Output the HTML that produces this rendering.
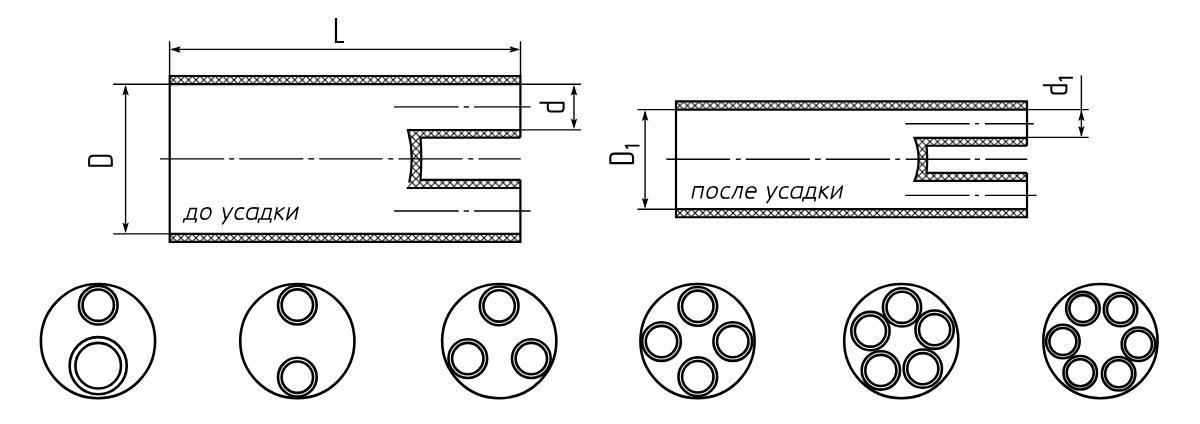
<!DOCTYPE html>
<html><head><meta charset="utf-8"><style>
html,body{margin:0;padding:0;background:#fff;width:1200px;height:424px;overflow:hidden}
svg{display:block}
</style></head><body>
<svg width="1200" height="424" viewBox="0 0 1200 424" stroke="#000" fill="none">
<defs>
<pattern id="La" patternUnits="userSpaceOnUse" x="169.61" y="76.11" width="7.58" height="7.58"><path d="M-1,-1 L8.58,8.58 M-1,8.58 L8.58,-1" stroke="#000" stroke-width="1.05" fill="none"/></pattern>
<pattern id="Lb" patternUnits="userSpaceOnUse" x="169.51" y="234.11" width="7.58" height="7.58"><path d="M-1,-1 L8.58,8.58 M-1,8.58 L8.58,-1" stroke="#000" stroke-width="1.05" fill="none"/></pattern>
<pattern id="Ln" patternUnits="userSpaceOnUse" x="169.61" y="129.51" width="7.58" height="7.58"><path d="M-1,-1 L8.58,8.58 M-1,8.58 L8.58,-1" stroke="#000" stroke-width="1.05" fill="none"/></pattern>
<pattern id="Ra" patternUnits="userSpaceOnUse" x="676.01" y="101.76" width="7.58" height="7.58"><path d="M-1,-1 L8.58,8.58 M-1,8.58 L8.58,-1" stroke="#000" stroke-width="1.05" fill="none"/></pattern>
<pattern id="Rb" patternUnits="userSpaceOnUse" x="676.21" y="209.21" width="7.58" height="7.58"><path d="M-1,-1 L8.58,8.58 M-1,8.58 L8.58,-1" stroke="#000" stroke-width="1.05" fill="none"/></pattern>
<pattern id="Rn" patternUnits="userSpaceOnUse" x="676.01" y="137.91" width="7.58" height="7.58"><path d="M-1,-1 L8.58,8.58 M-1,8.58 L8.58,-1" stroke="#000" stroke-width="1.05" fill="none"/></pattern>
</defs>
<rect x="169.7" y="76.0" width="350.7" height="8.200000000000003" fill="url(#La)" stroke="none"/>
<rect x="169.7" y="233.9" width="350.7" height="8.0" fill="url(#Lb)" stroke="none"/>
<path d="M520.4,130.0 H408.0 A115.50,115.50 0 0 1 408.00,188.00 H520.4 V179.85 H420.5 A279.32,279.32 0 0 0 420.50,137.60 H520.4 Z" fill="url(#Ln)" stroke="none"/>
<path d="M520.4,137.6 V76.0 H169.7 V241.9 H520.4 V179.85" fill="none" stroke-width="2.2" stroke-linejoin="miter"/>
<line x1="169.7" y1="84.2" x2="520.4" y2="84.2" stroke-width="2.2"/>
<line x1="169.7" y1="233.9" x2="520.4" y2="233.9" stroke-width="2.2"/>
<clipPath id="Lclip"><rect x="0" y="0" width="520.4" height="182.5"/></clipPath>
<path d="M520.4,130.0 H408.0 A115.50,115.50 0 0 1 408.00,188.00" fill="none" stroke-width="2.2" clip-path="url(#Lclip)"/>
<path d="M406.8,188.0 H520.4" fill="none" stroke-width="2.2"/>
<path d="M520.4,137.6 H420.5 A279.32,279.32 0 0 1 420.50,179.85 H520.4" fill="none" stroke-width="2.2"/>
<line x1="160" y1="158.85" x2="224.2" y2="158.85" stroke-width="1.4"/>
<line x1="229.2" y1="158.85" x2="234.2" y2="158.85" stroke-width="1.4"/>
<line x1="239.2" y1="158.85" x2="303.3" y2="158.85" stroke-width="1.4"/>
<line x1="308.3" y1="158.85" x2="314.2" y2="158.85" stroke-width="1.4"/>
<line x1="319.2" y1="158.85" x2="382.5" y2="158.85" stroke-width="1.4"/>
<line x1="388.3" y1="158.85" x2="393.3" y2="158.85" stroke-width="1.4"/>
<line x1="398.3" y1="158.85" x2="462.5" y2="158.85" stroke-width="1.4"/>
<line x1="468.3" y1="158.85" x2="473.3" y2="158.85" stroke-width="1.4"/>
<line x1="478.3" y1="158.85" x2="520.8" y2="158.85" stroke-width="1.4"/>
<line x1="394" y1="106.9" x2="458.7" y2="106.9" stroke-width="1.4"/>
<line x1="463.7" y1="106.9" x2="469" y2="106.9" stroke-width="1.4"/>
<line x1="474" y1="106.9" x2="530.6" y2="106.9" stroke-width="1.4"/>
<line x1="394" y1="211.0" x2="458.7" y2="211.0" stroke-width="1.4"/>
<line x1="463.7" y1="211.0" x2="469" y2="211.0" stroke-width="1.4"/>
<line x1="474" y1="211.0" x2="530.6" y2="211.0" stroke-width="1.4"/>
<line x1="169.6" y1="41.2" x2="169.6" y2="76" stroke-width="1.4"/>
<line x1="520.5" y1="41.3" x2="520.5" y2="76" stroke-width="1.4"/>
<line x1="172" y1="49.4" x2="518" y2="49.4" stroke-width="1.4"/>
<path d="M169.90,49.40 L180.70,46.15 L178.80,49.40 L180.70,52.65 Z" fill="#000" stroke="none"/>
<path d="M520.20,49.40 L509.40,52.65 L511.30,49.40 L509.40,46.15 Z" fill="#000" stroke="none"/>
<line x1="113.2" y1="84.2" x2="169.7" y2="84.2" stroke-width="1.4"/>
<line x1="113.2" y1="233.9" x2="169.7" y2="233.9" stroke-width="1.4"/>
<line x1="125.6" y1="87" x2="125.6" y2="231" stroke-width="1.4"/>
<path d="M125.60,84.80 L128.85,95.60 L125.60,93.70 L122.35,95.60 Z" fill="#000" stroke="none"/>
<path d="M125.60,233.30 L122.35,222.50 L125.60,224.40 L128.85,222.50 Z" fill="#000" stroke="none"/>
<line x1="520.4" y1="84.2" x2="581" y2="84.2" stroke-width="1.4"/>
<line x1="520.4" y1="129.9" x2="581" y2="129.9" stroke-width="1.4"/>
<line x1="574" y1="87" x2="574" y2="127" stroke-width="1.4"/>
<path d="M574.00,84.80 L577.25,95.60 L574.00,93.70 L570.75,95.60 Z" fill="#000" stroke="none"/>
<path d="M574.00,129.30 L570.75,118.50 L574.00,120.40 L577.25,118.50 Z" fill="#000" stroke="none"/>
<rect x="676.0" y="101.4" width="351.0" height="8.25" fill="url(#Ra)" stroke="none"/>
<rect x="676.0" y="209.2" width="351.0" height="8.050000000000011" fill="url(#Rb)" stroke="none"/>
<path d="M1027.0,137.95 H914.5 A59.51,59.51 0 0 1 914.50,180.85 H1027.0 V172.95 H926.5 A132.46,132.46 0 0 0 926.50,145.75 H1027.0 Z" fill="url(#Rn)" stroke="none"/>
<path d="M1027.0,145.75 V101.4 H676.0 V217.25 H1027.0 V172.95" fill="none" stroke-width="2.2" stroke-linejoin="miter"/>
<line x1="676.0" y1="109.65" x2="1027.0" y2="109.65" stroke-width="2.2"/>
<line x1="676.0" y1="209.2" x2="1027.0" y2="209.2" stroke-width="2.2"/>
<path d="M1027.0,137.95 H914.5 A59.51,59.51 0 0 1 914.50,180.85 H1027.0" fill="none" stroke-width="2.2"/>
<path d="M1027.0,145.75 H926.5 A132.46,132.46 0 0 1 926.50,172.95 H1027.0" fill="none" stroke-width="2.2"/>
<line x1="666.3" y1="159.2" x2="730" y2="159.2" stroke-width="1.4"/>
<line x1="735.8" y1="159.2" x2="740.8" y2="159.2" stroke-width="1.4"/>
<line x1="745.8" y1="159.2" x2="810" y2="159.2" stroke-width="1.4"/>
<line x1="815" y1="159.2" x2="820.8" y2="159.2" stroke-width="1.4"/>
<line x1="825.8" y1="159.2" x2="890" y2="159.2" stroke-width="1.4"/>
<line x1="895.2" y1="159.2" x2="900.2" y2="159.2" stroke-width="1.4"/>
<line x1="905.7" y1="159.2" x2="970.2" y2="159.2" stroke-width="1.4"/>
<line x1="974.7" y1="159.2" x2="980" y2="159.2" stroke-width="1.4"/>
<line x1="985.2" y1="159.2" x2="1027.2" y2="159.2" stroke-width="1.4"/>
<line x1="905.3" y1="123.7" x2="969.6" y2="123.7" stroke-width="1.4"/>
<line x1="975" y1="123.7" x2="979" y2="123.7" stroke-width="1.4"/>
<line x1="985" y1="123.7" x2="1033.8" y2="123.7" stroke-width="1.4"/>
<line x1="905.3" y1="195.4" x2="969.6" y2="195.4" stroke-width="1.4"/>
<line x1="975" y1="195.4" x2="979" y2="195.4" stroke-width="1.4"/>
<line x1="985" y1="195.4" x2="1036.6" y2="195.4" stroke-width="1.4"/>
<line x1="637.5" y1="109.6" x2="676" y2="109.6" stroke-width="1.4"/>
<line x1="637.5" y1="209.3" x2="676" y2="209.3" stroke-width="1.4"/>
<line x1="645.1" y1="112" x2="645.1" y2="207" stroke-width="1.4"/>
<path d="M645.10,110.20 L648.35,121.00 L645.10,119.10 L641.85,121.00 Z" fill="#000" stroke="none"/>
<path d="M645.10,208.70 L641.85,197.90 L645.10,199.80 L648.35,197.90 Z" fill="#000" stroke="none"/>
<line x1="1027" y1="109.6" x2="1088.7" y2="109.6" stroke-width="1.4"/>
<line x1="1027" y1="137.4" x2="1088.7" y2="137.4" stroke-width="1.4"/>
<line x1="1081.4" y1="75.3" x2="1081.4" y2="136" stroke-width="1.4"/>
<path d="M1081.40,110.20 L1084.65,121.00 L1081.40,119.10 L1078.15,121.00 Z" fill="#000" stroke="none"/>
<path d="M1081.40,136.80 L1078.15,126.00 L1081.40,127.90 L1084.65,126.00 Z" fill="#000" stroke="none"/>
<g fill="none" stroke-width="2.2" stroke-linejoin="round">
<path d="M336,18 V42 H344" stroke-linecap="butt" stroke-linejoin="miter"/>
<path stroke-width="2.05" d="M89.1,165.7 H111.8 V159.89999999999998 Q111.8,155.7 107.6,155.7 H93.3 Q89.1,155.7 89.1,159.89999999999998 Z"/>
<path stroke-width="2.05" d="M610.3,163.1 H633.1 V157.79999999999998 Q633.1,153.6 628.9,153.6 H614.5 Q610.3,153.6 610.3,157.79999999999998 Z"/>
<path stroke-width="2.0" d="M539.5,102.8 H563.6 V108.2 Q563.6,111.4 560.4,111.4 H551.0 Q547.8,111.4 547.8,108.2 V102.8"/>
<path stroke-width="2.0" d="M1042.9,85.2 H1066.4 V90.3 Q1066.4,93.5 1063.2,93.5 H1054.5 Q1051.3,93.5 1051.3,90.3 V85.2"/>
<path d="M1061.4,81.1 L1059.5,77.8 H1072.9" stroke-width="1.9"/>
<path d="M627.8,148.8 L625.6,145.6 H639.5" stroke-width="1.9"/>
</g>
<g fill="none" stroke="#000" stroke-width="1.6" stroke-linejoin="round" stroke-linecap="butt"><path transform="matrix(1,0,-0.21,1,0,219.8)" d="M184.00,2.9 V-0.75 H196.10 V2.9 M186.40,-0.75 C187.40,-3.8 187.50,-8.5 187.70,-11.35 H194.10 V-0.75 M199.85,-6.25 C199.85,-9.98 201.47,-11.90 204.60,-11.90 C207.73,-11.90 209.35,-9.98 209.35,-6.25 C209.35,-2.52 207.73,-0.60 204.60,-0.60 C201.47,-0.60 199.85,-2.52 199.85,-6.25 Z M220.70,-12.5 L225.50,-0.4 M230.30,-12.5 L227.10,-4.0 C225.50,-0.8 224.70,2.8 223.10,4.6 M241.95,-11.30 C240.65,-11.85 239.90,-11.90 238.90,-11.90 C235.90,-11.90 234.20,-9.85 234.20,-6.25 C234.20,-2.45 235.90,-0.60 238.90,-0.60 C240.50,-0.60 242.25,-0.80 243.45,-1.20 M255.70,-12.5 V0 M255.70,-11.20 C254.40,-11.80 252.17,-11.90 250.77,-11.90 C247.55,-11.90 245.85,-9.85 245.85,-6.25 C245.85,-2.45 247.45,-0.60 250.57,-0.60 C252.57,-0.60 254.80,-1.50 255.70,-2.40 M258.75,2.9 V-0.75 H270.85 V2.9 M261.15,-0.75 C262.15,-3.8 262.25,-8.5 262.45,-11.35 H268.85 V-0.75 M274.65,-12.5 V0 M274.65,-6.3 L282.00,-12.5 M275.90,-7.2 L283.10,0 M286.80,-12.5 V0 L295.35,-12.5 V0"/><path transform="matrix(1,0,-0.21,1,0,198.6)" d="M692.15,0 V-11.75 H700.85 M700.85,-12.5 V0 M706.15,-6.25 C706.15,-9.98 707.76,-11.90 710.90,-11.90 C714.03,-11.90 715.65,-9.98 715.65,-6.25 C715.65,-2.52 714.03,-0.60 710.90,-0.60 C707.76,-0.60 706.15,-2.52 706.15,-6.25 Z M727.95,-11.30 C726.65,-11.85 725.90,-11.90 724.90,-11.90 C721.90,-11.90 720.20,-9.85 720.20,-6.25 C720.20,-2.45 721.90,-0.60 724.90,-0.60 C726.50,-0.60 728.25,-0.80 729.45,-1.20 M731.70,0 C732.90,-2.5 734.50,-8 734.80,-11.75 H739.90 M739.90,-12.5 V0 M745.00,-6.7 H754.40 C754.40,-9.30 752.10,-11.90 749.70,-11.90 C746.80,-11.90 745.00,-9.85 745.00,-6.25 C745.00,-2.45 746.80,-0.60 749.70,-0.60 C751.30,-0.60 753.10,-0.80 754.00,-1.20 M765.10,-12.5 L769.90,-0.4 M774.70,-12.5 L771.50,-4.0 C769.90,-0.8 769.10,2.8 767.50,4.6 M786.35,-11.30 C785.05,-11.85 784.30,-11.90 783.30,-11.90 C780.30,-11.90 778.60,-9.85 778.60,-6.25 C778.60,-2.45 780.30,-0.60 783.30,-0.60 C784.90,-0.60 786.65,-0.80 787.85,-1.20 M800.10,-12.5 V0 M800.10,-11.20 C798.80,-11.80 796.57,-11.90 795.17,-11.90 C791.95,-11.90 790.25,-9.85 790.25,-6.25 C790.25,-2.45 791.85,-0.60 794.97,-0.60 C796.97,-0.60 799.20,-1.50 800.10,-2.40 M803.15,2.9 V-0.75 H815.25 V2.9 M805.55,-0.75 C806.55,-3.8 806.65,-8.5 806.85,-11.35 H813.25 V-0.75 M819.05,-12.5 V0 M819.05,-6.3 L826.40,-12.5 M820.30,-7.2 L827.50,0 M831.20,-12.5 V0 L839.75,-12.5 V0"/></g>
<g fill="none">
<circle cx="98.0" cy="341.1" r="57.1" stroke-width="2.6"/>
<circle cx="297.35" cy="341.1" r="57.1" stroke-width="2.6"/>
<circle cx="499.25" cy="341.1" r="57.1" stroke-width="2.6"/>
<circle cx="697.5" cy="341.1" r="57.1" stroke-width="2.6"/>
<circle cx="901.3" cy="341.1" r="57.1" stroke-width="2.6"/>
<circle cx="1100.45" cy="341.1" r="57.1" stroke-width="2.6"/>
<circle cx="98.25" cy="305.20" r="19.35" stroke-width="2.6"/>
<circle cx="98.25" cy="305.20" r="15.70" stroke-width="2.6"/>
<circle cx="98.20" cy="365.70" r="28.55" stroke-width="2.6"/>
<circle cx="98.20" cy="365.70" r="22.80" stroke-width="2.6"/>
<circle cx="297.35" cy="305.10" r="19.35" stroke-width="2.6"/>
<circle cx="297.35" cy="305.10" r="15.70" stroke-width="2.6"/>
<circle cx="297.35" cy="377.15" r="19.35" stroke-width="2.6"/>
<circle cx="297.35" cy="377.15" r="15.70" stroke-width="2.6"/>
<circle cx="499.15" cy="305.90" r="19.35" stroke-width="2.6"/>
<circle cx="499.15" cy="305.90" r="15.70" stroke-width="2.6"/>
<circle cx="467.80" cy="358.60" r="19.35" stroke-width="2.6"/>
<circle cx="467.80" cy="358.60" r="15.70" stroke-width="2.6"/>
<circle cx="531.35" cy="358.60" r="19.35" stroke-width="2.6"/>
<circle cx="531.35" cy="358.60" r="15.70" stroke-width="2.6"/>
<circle cx="697.80" cy="306.35" r="19.35" stroke-width="2.6"/>
<circle cx="697.80" cy="306.35" r="15.70" stroke-width="2.6"/>
<circle cx="661.50" cy="341.55" r="19.35" stroke-width="2.6"/>
<circle cx="661.50" cy="341.55" r="15.70" stroke-width="2.6"/>
<circle cx="732.75" cy="341.55" r="19.35" stroke-width="2.6"/>
<circle cx="732.75" cy="341.55" r="15.70" stroke-width="2.6"/>
<circle cx="697.80" cy="376.75" r="19.35" stroke-width="2.6"/>
<circle cx="697.80" cy="376.75" r="15.70" stroke-width="2.6"/>
<circle cx="902.05" cy="307.35" r="19.15" stroke-width="2.6"/>
<circle cx="902.05" cy="307.35" r="15.55" stroke-width="2.6"/>
<circle cx="870.45" cy="331.05" r="19.15" stroke-width="2.6"/>
<circle cx="870.45" cy="331.05" r="15.55" stroke-width="2.6"/>
<circle cx="934.60" cy="329.70" r="19.15" stroke-width="2.6"/>
<circle cx="934.60" cy="329.70" r="15.55" stroke-width="2.6"/>
<circle cx="880.85" cy="370.45" r="19.15" stroke-width="2.6"/>
<circle cx="880.85" cy="370.45" r="15.55" stroke-width="2.6"/>
<circle cx="922.80" cy="368.65" r="19.15" stroke-width="2.6"/>
<circle cx="922.80" cy="368.65" r="15.55" stroke-width="2.6"/>
<circle cx="1082.90" cy="308.60" r="16.75" stroke-width="2.6"/>
<circle cx="1082.90" cy="308.60" r="13.50" stroke-width="2.6"/>
<circle cx="1120.55" cy="309.50" r="16.75" stroke-width="2.6"/>
<circle cx="1120.55" cy="309.50" r="13.50" stroke-width="2.6"/>
<circle cx="1062.90" cy="341.55" r="16.75" stroke-width="2.6"/>
<circle cx="1062.90" cy="341.55" r="13.50" stroke-width="2.6"/>
<circle cx="1138.45" cy="344.25" r="16.75" stroke-width="2.6"/>
<circle cx="1138.45" cy="344.25" r="13.50" stroke-width="2.6"/>
<circle cx="1080.25" cy="372.70" r="16.75" stroke-width="2.6"/>
<circle cx="1080.25" cy="372.70" r="13.50" stroke-width="2.6"/>
<circle cx="1118.65" cy="373.75" r="16.75" stroke-width="2.6"/>
<circle cx="1118.65" cy="373.75" r="13.50" stroke-width="2.6"/>
</g>
</svg>
</body></html>
